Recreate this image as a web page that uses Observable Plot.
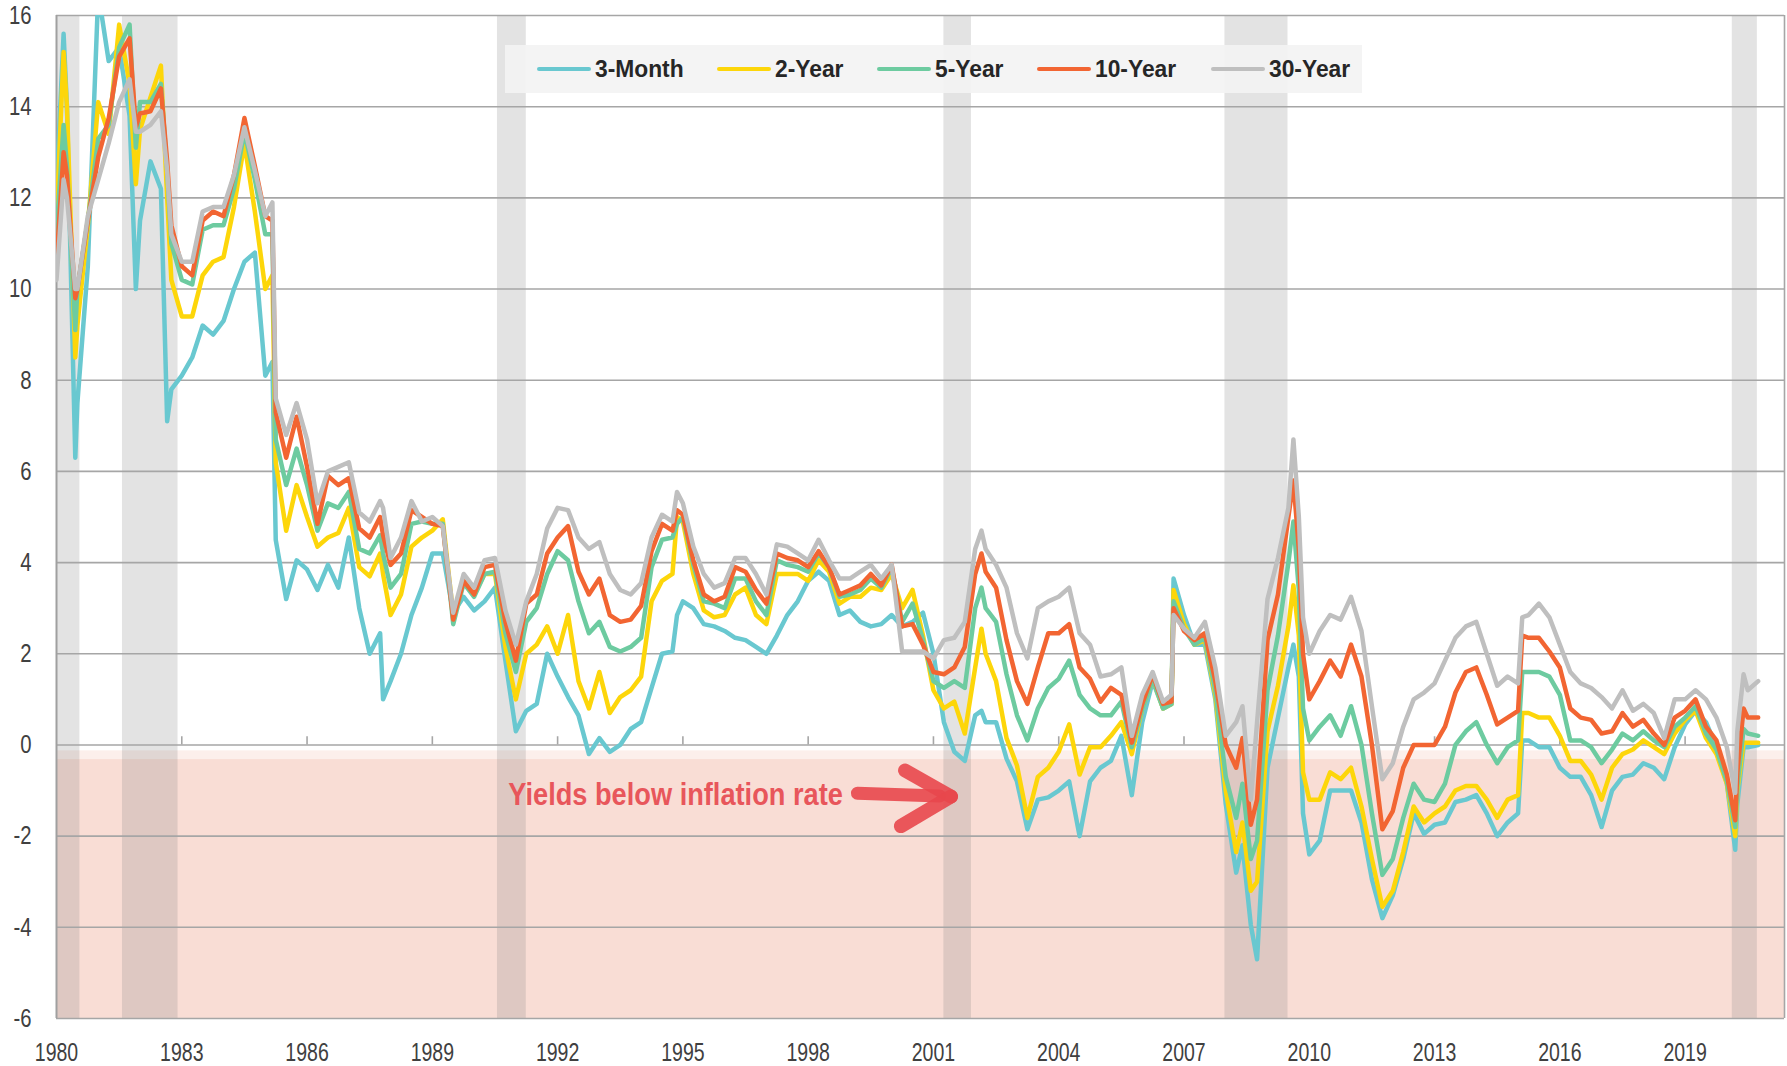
<!DOCTYPE html>
<html><head><meta charset="utf-8">
<script src="https://cdn.jsdelivr.net/npm/d3@7"></script>
<script src="https://cdn.jsdelivr.net/npm/@observablehq/plot@0.6"></script>
<style>
body{margin:0;background:#fff;}
#wrap{position:relative;width:1787px;height:1066px;}
#legend{position:absolute;left:505px;top:45px;width:857px;height:48px;background:rgba(243,243,243,0.93);}
.item{position:absolute;top:0;height:48px;display:flex;align-items:center;}
.sw{width:54px;height:4px;border-radius:2px;margin-right:4px;}
.lab{font-weight:bold;font-size:24px;font-family:"Liberation Sans",Arial,sans-serif;color:#262626;display:inline-block;transform:scaleX(0.95);transform-origin:left center;}
</style></head><body><div id="wrap"></div>
<script>
// ---- data (decimal years; yields minus inflation, %) ----
const dates = [
1980.0,1980.17,1980.25,1980.45,1980.5,1980.75,
1981.0,1981.25,1981.5,1981.75,1981.9,
1982.0,1982.25,1982.5,1982.65,1982.75,
1983.0,1983.25,1983.5,1983.75,
1984.0,1984.25,1984.5,1984.75,
1985.0,1985.17,1985.25,1985.5,1985.75,
1986.0,1986.25,1986.5,1986.75,
1987.0,1987.25,1987.5,1987.75,1987.82,
1988.0,1988.25,1988.5,1988.75,
1989.0,1989.25,1989.5,1989.75,
1990.0,1990.25,1990.5,1990.75,
1991.0,1991.25,1991.5,1991.75,
1992.0,1992.25,1992.5,1992.75,
1993.0,1993.25,1993.5,1993.75,
1994.0,1994.25,1994.5,1994.75,1994.86,
1995.0,1995.25,1995.5,1995.75,
1996.0,1996.25,1996.5,1996.75,
1997.0,1997.25,1997.5,1997.75,
1998.0,1998.25,1998.5,1998.75,
1999.0,1999.25,1999.5,1999.75,
2000.0,2000.25,2000.5,2000.75,
2001.0,2001.25,2001.5,2001.75,
2002.0,2002.15,2002.25,2002.5,2002.75,
2003.0,2003.25,2003.5,2003.75,
2004.0,2004.25,2004.5,2004.75,
2005.0,2005.25,2005.5,2005.75,
2006.0,2006.25,2006.5,2006.7,2006.75,
2007.0,2007.25,2007.5,2007.75,
2008.0,2008.25,2008.4,2008.6,2008.75,
2009.0,2009.25,2009.5,2009.62,2009.75,2009.85,
2010.0,2010.25,2010.5,2010.75,
2011.0,2011.25,2011.5,2011.75,
2012.0,2012.25,2012.5,2012.75,
2013.0,2013.25,2013.5,2013.75,
2014.0,2014.25,2014.5,2014.75,
2015.0,2015.1,2015.25,2015.5,2015.75,
2016.0,2016.25,2016.5,2016.75,
2017.0,2017.25,2017.5,2017.75,
2018.0,2018.25,2018.5,2018.75,
2019.0,2019.25,2019.5,2019.75,
2020.0,2020.2,2020.25,2020.4,2020.5,2020.75
];
const month3 = [
12.2,15.6,14.0,6.3,7.5,10.5,
16.5,15.0,15.3,13.8,10.0,
11.5,12.8,12.2,7.1,7.8,
8.1,8.5,9.2,9.0,
9.3,10.0,10.6,10.8,
8.1,8.4,4.5,3.2,4.05,
3.85,3.4,3.95,3.45,
4.55,3.0,2.0,2.45,1.0,
1.4,2.0,2.85,3.45,
4.2,4.2,2.9,3.25,
2.95,3.15,3.45,1.85,
0.3,0.75,0.9,2.0,
1.5,1.05,0.65,-0.2,
0.15,-0.15,0.0,0.35,
0.5,1.25,2.0,2.05,2.85,
3.15,3.0,2.65,2.6,
2.5,2.35,2.3,2.15,
2.0,2.4,2.85,3.15,
3.6,3.8,3.6,2.85,
2.95,2.7,2.6,2.65,
2.85,2.6,2.7,2.9,
2.0,0.5,-0.15,-0.35,
0.65,0.75,0.5,0.5,-0.3,
-0.8,-1.85,-1.2,-1.15,
-1.0,-0.8,-2.0,-0.8,
-0.5,-0.35,0.2,-1.1,
0.5,1.4,0.8,0.9,3.65,
2.85,2.2,2.2,1.0,
-1.3,-2.8,-2.2,-3.95,-4.7,
-0.5,0.6,1.7,2.2,1.5,-1.5,
-2.4,-2.1,-1.0,-1.0,
-1.0,-1.7,-2.95,-3.8,
-3.3,-2.5,-1.5,-1.95,
-1.75,-1.7,-1.25,-1.2,
-1.1,-1.5,-2.0,-1.7,
-1.5,0.1,0.1,-0.05,-0.05,
-0.5,-0.7,-0.7,-1.1,
-1.8,-1.0,-0.7,-0.65,
-0.4,-0.5,-0.75,-0.05,
0.45,0.75,0.5,-0.05,
-0.85,-2.3,-1.3,-0.05,-0.05,0.0
];
const year2 = [
11.5,15.2,14.0,8.5,9.2,11.4,
14.1,13.4,15.8,14.5,12.3,
13.5,14.2,14.9,12.0,10.2,
9.4,9.4,10.3,10.6,
10.7,11.8,13.2,11.7,
10.0,10.3,6.2,4.7,5.7,
5.0,4.35,4.55,4.65,
5.2,3.9,3.7,4.2,3.75,
2.85,3.3,4.35,4.55,
4.7,4.95,2.85,3.6,
3.3,3.75,3.75,2.15,
1.0,2.0,2.2,2.6,
2.0,2.85,1.4,0.8,
1.6,0.7,1.05,1.2,
1.5,3.15,3.6,3.75,5.0,
4.9,3.75,2.95,2.8,
2.85,3.3,3.45,2.85,
2.65,3.75,3.75,3.75,
3.6,4.05,3.8,3.1,
3.25,3.25,3.45,3.4,
3.75,3.0,3.4,2.4,
1.2,0.8,0.95,0.25,
1.7,2.55,2.0,1.4,0.15,
-0.45,-1.6,-0.7,-0.5,
-0.15,0.45,-0.65,-0.05,
-0.05,0.2,0.5,-0.2,
0.8,1.45,0.8,0.9,3.4,
2.65,2.2,2.3,1.1,
-1.0,-2.35,-1.7,-3.2,-3.0,
0.3,1.3,2.6,3.5,2.4,-0.6,
-1.2,-1.2,-0.6,-0.75,
-0.5,-1.35,-2.5,-3.55,
-3.2,-2.35,-1.35,-1.7,
-1.5,-1.35,-1.0,-0.9,
-0.9,-1.2,-1.6,-1.2,
-1.1,0.7,0.7,0.6,0.6,
0.2,-0.35,-0.35,-0.65,
-1.2,-0.5,-0.2,-0.1,
0.1,-0.05,-0.2,0.25,
0.55,0.75,0.15,-0.2,
-0.85,-2.0,-1.0,0.05,0.05,0.05
];
const year5 = [
11.2,13.6,12.7,9.1,10.0,11.5,
13.3,13.6,15.3,15.8,13.1,
14.1,14.1,14.5,12.6,11.0,
10.2,10.1,11.3,11.4,
11.4,12.2,13.45,12.4,
11.2,11.2,6.7,5.7,6.5,
5.7,4.7,5.3,5.2,
5.55,4.3,4.2,4.6,4.2,
3.45,3.75,4.85,4.9,
4.85,4.85,2.65,3.55,
3.25,3.75,3.8,2.45,
1.6,2.7,3.0,3.75,
4.25,4.05,3.15,2.45,
2.7,2.15,2.05,2.15,
2.35,3.9,4.5,4.55,4.85,
5.0,3.95,3.15,3.1,
3.0,3.65,3.65,3.15,
2.85,4.05,3.95,3.9,
3.8,4.2,3.9,3.25,
3.3,3.4,3.65,3.45,
3.9,2.7,3.1,2.3,
1.4,1.25,1.4,1.25,
3.0,3.45,3.0,2.7,1.55,
0.65,0.1,0.8,1.25,
1.45,1.85,1.1,0.8,
0.65,0.65,0.95,-0.05,
0.8,1.45,0.8,0.9,3.15,
2.55,2.2,2.35,1.2,
-0.7,-1.6,-0.85,-2.5,-2.1,
1.2,2.4,4.0,4.9,3.4,0.8,
0.1,0.4,0.65,0.2,
0.85,0.0,-1.5,-2.85,
-2.5,-1.6,-0.85,-1.2,
-1.25,-0.85,0.0,0.3,
0.5,0.0,-0.4,-0.05,
0.1,1.6,1.6,1.6,1.5,
1.1,0.1,0.1,-0.05,
-0.4,-0.1,0.25,0.1,
0.3,0.1,-0.05,0.4,
0.6,0.85,0.25,-0.1,
-0.8,-1.8,-0.9,0.35,0.25,0.2
];
const year10 = [
10.6,13.0,12.5,9.8,10.0,11.5,
12.9,13.75,15.1,15.5,13.55,
13.85,13.9,14.4,12.8,11.4,
10.5,10.3,11.5,11.7,
11.6,12.5,13.75,12.7,
11.6,11.5,7.3,6.3,7.2,
6.1,4.85,5.9,5.7,
5.85,4.75,4.55,5.0,4.6,
3.95,4.2,5.15,5.0,
4.85,4.8,2.75,3.6,
3.3,3.9,3.95,2.7,
1.85,3.1,3.3,4.2,
4.55,4.8,3.8,3.3,
3.65,2.85,2.7,2.75,
3.05,4.25,4.85,4.7,5.15,
5.05,4.05,3.3,3.15,
3.25,3.9,3.8,3.4,
3.1,4.2,4.1,4.05,
3.9,4.25,3.9,3.3,
3.4,3.5,3.75,3.5,
3.95,2.6,2.65,2.2,
1.6,1.55,1.7,2.15,
3.75,4.2,3.8,3.45,2.3,
1.4,0.9,1.7,2.45,
2.45,2.65,1.7,1.45,
0.95,1.25,1.1,0.05,
0.9,1.55,0.9,0.95,3.0,
2.5,2.3,2.45,1.4,
0.0,-0.5,0.15,-1.75,-1.2,
2.3,3.3,5.0,5.8,4.3,2.0,
1.0,1.4,1.85,1.5,
2.2,1.5,0.0,-1.85,
-1.45,-0.5,0.0,0.0,
0.0,0.4,1.15,1.6,
1.7,1.1,0.45,0.6,
0.75,2.4,2.35,2.35,2.05,
1.7,0.8,0.6,0.55,
0.25,0.3,0.7,0.4,
0.55,0.25,0.0,0.6,
0.75,1.0,0.4,0.1,
-0.65,-1.65,-0.6,0.8,0.6,0.6
];
const year30 = [
10.2,12.4,12.0,10.0,10.0,11.6,
12.4,13.2,14.1,14.6,13.45,
13.45,13.6,13.9,12.6,11.2,
10.6,10.6,11.7,11.8,
11.8,12.5,13.55,12.6,
11.6,11.9,7.6,6.8,7.5,
6.7,5.3,6.0,6.1,
6.2,5.1,4.9,5.35,5.2,
4.1,4.55,5.35,4.9,
5.0,4.8,2.9,3.75,
3.45,4.05,4.1,2.95,
2.2,3.15,3.75,4.75,
5.2,5.15,4.55,4.3,
4.45,3.75,3.4,3.3,
3.55,4.55,5.05,4.9,5.55,
5.3,4.35,3.75,3.45,
3.55,4.1,4.1,3.75,
3.3,4.4,4.35,4.2,
4.05,4.5,4.05,3.65,
3.65,3.8,3.95,3.65,
3.95,2.05,2.05,2.05,
1.9,2.3,2.35,2.7,
4.3,4.7,4.3,3.95,3.45,
2.45,1.9,3.0,3.15,
3.25,3.45,2.45,2.2,
1.5,1.55,1.7,0.2,
1.1,1.6,0.95,1.1,2.85,
2.55,2.35,2.7,1.7,
0.2,0.5,0.85,-1.2,0.5,
3.2,4.1,5.2,6.7,5.0,2.8,
2.0,2.5,2.85,2.75,
3.25,2.5,0.85,-0.75,
-0.4,0.4,1.0,1.15,
1.35,1.85,2.35,2.6,
2.7,2.0,1.3,1.5,
1.35,2.8,2.85,3.1,2.8,
2.2,1.6,1.35,1.25,
1.05,0.8,1.2,0.75,
0.9,0.7,0.15,1.0,
1.0,1.2,1.0,0.6,
-0.05,-1.05,0.3,1.55,1.2,1.4
];
const seriesNames = ["3-Month","2-Year","5-Year","10-Year","30-Year"];
const seriesColors = ["#69c8d0","#fdd60a","#6dcba0","#f26532","#bfbfbf"];
const seriesValues = [month3, year2, year5, year10, year30];
// recession periods (start, end)
const recStart = [1980.0, 1981.58, 1990.56, 2001.25, 2007.98, 2020.13];
const recEnd   = [1980.56, 1982.91, 1991.25, 2001.91, 2009.49, 2020.73];
const yTicks = [-6,-4,-2,0,2,4,6,8,10,12,14,16];
const xTicks = [1980,1983,1986,1989,1992,1995,1998,2001,2004,2007,2010,2013,2016,2019];
const xDomain = [1980, 2021.38];
const yDomain = [-6, 16];
// shaded "below inflation" zone and its faded edge
const zoneBelow = [{y1: -6, y2: -0.32, fill: "#f9ddd5"}, {y1: -0.32, y2: -0.13, fill: "#fcefeb"}];
// annotation
const noteText = "Yields below inflation rate";
const noteX = 1990.82, noteY = -1.1;
const arrowShaft = [{x: 1999.18, y: -1.06}, {x: 2001.15, y: -1.12}];
const arrowUpper = [{x: 2000.32, y: -0.56}, {x: 2001.42, y: -1.13}];
const arrowLower = [{x: 2000.22, y: -1.78}, {x: 2001.42, y: -1.13}];

seriesValues.forEach((a, i) => { if (a.length !== dates.length) console.warn(seriesNames[i], a.length, dates.length); });

const FONT = '"Liberation Sans", Arial, sans-serif';
const lineMarks = seriesValues.map((vals, i) =>
  Plot.line(dates.map((t, j) => ({t, v: vals[j]})), {
    x: "t", y: "v", stroke: seriesColors[i], strokeWidth: 4.5,
    strokeLinejoin: "round", strokeLinecap: "round", clip: true
  })
);

const chart = Plot.plot({
  width: 1787, height: 1066,
  marginLeft: 56, marginRight: 3, marginTop: 15, marginBottom: 48,
  style: {fontFamily: FONT, background: "white", color: "#404040"},
  x: {type: "linear", domain: xDomain},
  y: {domain: yDomain},
  marks: [
    Plot.rect(zoneBelow, {x1: xDomain[0], x2: xDomain[1], y1: "y1", y2: "y2", fill: "fill"}),
    Plot.rect(recStart.map((s, i) => ({s, e: recEnd[i]})), {x1: "s", x2: "e", y1: yDomain[0], y2: yDomain[1], fill: "#808080", fillOpacity: 0.22}),
    Plot.ruleY(yTicks, {stroke: "#a6a6a6", strokeWidth: 1.6}),
    Plot.ruleX([xDomain[0]], {stroke: "#a0a0a0", strokeWidth: 2}),
    Plot.ruleX([xDomain[1]], {stroke: "#a6a6a6", strokeWidth: 1.6}),
    Plot.ruleX(xTicks.slice(1), {y1: 0, y2: 0.18, stroke: "#a6a6a6", strokeWidth: 1.6}),
    Plot.axisX({ticks: xTicks, tickFormat: d => String(d), tickSize: 0, tickPadding: 25, fontSize: 25, label: null}),
    Plot.axisY({ticks: yTicks, tickFormat: d => String(d), tickSize: 0, tickPadding: 25, fontSize: 26, label: null}),
    ...lineMarks,
    Plot.text([noteText], {x: noteX, y: noteY, text: d => d, textAnchor: "start", fontSize: 32, fontWeight: "bold", fill: "#e8565b"}),
    Plot.line(arrowShaft, {x: "x", y: "y", stroke: "#e8474c", strokeOpacity: 0.9, strokeWidth: 13, strokeLinecap: "round"}),
    Plot.line(arrowUpper, {x: "x", y: "y", stroke: "#e8474c", strokeOpacity: 0.9, strokeWidth: 14}),
    Plot.line(arrowLower, {x: "x", y: "y", stroke: "#e8474c", strokeOpacity: 0.9, strokeWidth: 14})
  ]
});
const wrap = document.getElementById("wrap");
wrap.appendChild(chart);

// narrow the text horizontally (condensed look of the original typeface)
function condense(selector, factor) {
  chart.querySelectorAll(selector).forEach(el => {
    const w = el.getComputedTextLength();
    if (w > 0) {
      el.setAttribute("textLength", (w * factor).toFixed(1));
      el.setAttribute("lengthAdjust", "spacingAndGlyphs");
    }
  });
}
condense('g[aria-label="x-axis tick label"] text', 0.78);
condense('g[aria-label="y-axis tick label"] text', 0.78);
condense('g[aria-label="text"] text', 0.85);

// legend overlay
const legend = document.createElement("div");
legend.id = "legend";
const itemLeft = [32, 212, 372, 532, 706];
seriesNames.forEach((name, i) => {
  const it = document.createElement("div");
  it.className = "item";
  it.style.left = itemLeft[i] + "px";
  it.innerHTML = `<div class="sw" style="background:${seriesColors[i]}"></div><span class="lab">${name}</span>`;
  legend.appendChild(it);
});
wrap.appendChild(legend);
</script></body></html>
